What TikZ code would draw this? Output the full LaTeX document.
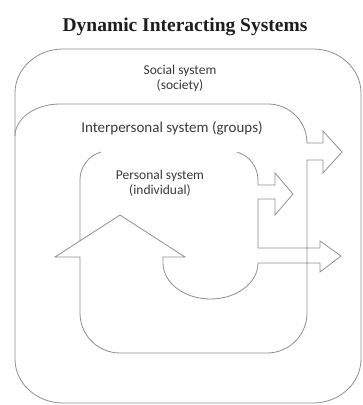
\documentclass[tikz,border=0pt]{standalone}
\usepackage{fontspec}
\setmainfont{Liberation Serif}
\newfontfamily\labelfont{Carlito}
\definecolor{linegray}{HTML}{8E8E8E}
\definecolor{labelgray}{HTML}{3A3A3A}
\definecolor{titlegray}{HTML}{1E1E1E}
\begin{document}
\begin{tikzpicture}[x=1pt,y=-1pt,
  edge/.style={draw=linegray, line width=0.8pt, line join=miter},
  lbl/.style={font=\labelfont\fontsize{13.5}{15}\selectfont, text=labelgray, align=center, inner sep=0pt}]
\useasboundingbox (0,0) rectangle (363,405);

% title
\node[font=\bfseries\fontsize{19.5}{22}\selectfont, text=titlegray] (title) at (185,27) {Dynamic Interacting Systems};

% social system: outer rounded frame
\draw[edge] (63,49) -- (313,49)
  arc[start angle=90,end angle=0,x radius=48pt,y radius=44pt] -- (361,359)
  arc[start angle=0,end angle=-90,x radius=48pt,y radius=44pt] -- (63,403)
  arc[start angle=270,end angle=180,x radius=48pt,y radius=44pt] -- (15,93)
  arc[start angle=180,end angle=90,x radius=48pt,y radius=44pt] -- cycle;

% interpersonal system outline, its outgoing arrow, and the loop arrow
\draw[edge] (15,136)
  arc[start angle=180,end angle=90,x radius=45pt,y radius=32pt] -- (268,104)
  arc[start angle=90,end angle=0,radius=39pt]
  -- (323,143) -- (323,131) -- (342,152) -- (323,173) -- (323,160) -- (307,160)
  -- (307,313) arc[start angle=0,end angle=-90,radius=40pt]
  -- (120,353) arc[start angle=270,end angle=180,radius=40pt]
  -- (80,257) -- (55,257) -- (120,215) -- (185,257) -- (163,257) -- (163,263)
  arc[start angle=180,end angle=360,x radius=47.5pt,y radius=36pt]
  -- (320,263) -- (320,272) -- (341,256) -- (320,241) -- (320,248) -- (258,248)
  -- (258,199) -- (275,199) -- (275,215) -- (293,194) -- (275,173) -- (275,185) -- (258,185)
  -- (258,180) arc[start angle=0,end angle=74,radius=29pt];

% personal system: left corner and side
\draw[edge] (101,152) arc[start angle=106,end angle=180,radius=29pt] -- (80,240.8);

% labels
\node[lbl] (social) at (180,78) {Social system\\(society)};
\node[lbl, font=\labelfont\fontsize{15}{17}\selectfont] (inter) at (172,128) {Interpersonal system (groups)};
\node[lbl] (personal) at (160,183) {Personal system\\(individual)};
\end{tikzpicture}
\end{document}
